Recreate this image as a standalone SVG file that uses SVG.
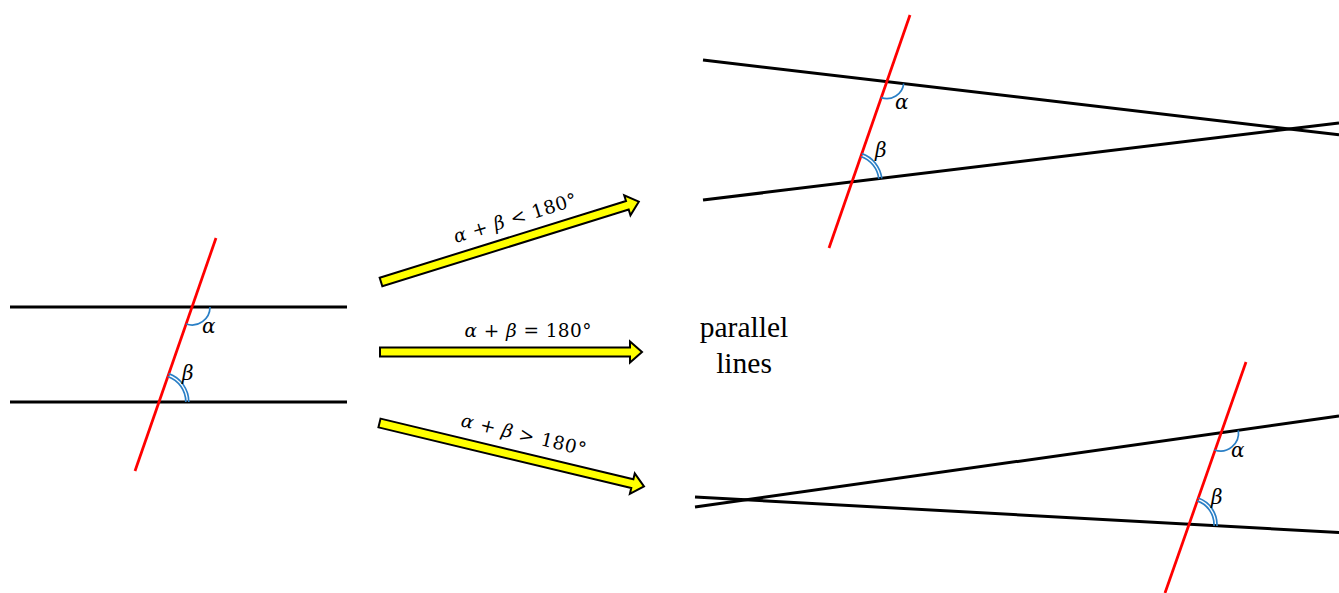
<svg xmlns="http://www.w3.org/2000/svg" width="1339" height="593" viewBox="0 0 1339 593">
<style>
.blk{stroke:#000;stroke-width:3;fill:none}
.red{stroke:#FF0000;stroke-width:2.75;fill:none}
.arc{stroke:#2A7FC6;stroke-width:1.7;fill:none}
.ang{font-family:"DejaVu Serif","Liberation Serif",serif;font-style:italic;font-size:20px;fill:#000}
.arr{fill:#FFFF00;stroke:#000;stroke-width:2;stroke-linejoin:miter}
.lbl{font-family:"DejaVu Serif","Liberation Serif",serif;font-size:18.5px;fill:#000}
.it{font-style:italic}
.pl{font-family:"Liberation Serif","Times New Roman",serif;font-size:29.5px;fill:#000}
</style>
<rect width="1339" height="593" fill="#fff"/>
<g id="fig-left">
<line class="blk" x1="10" y1="307" x2="347" y2="307"/>
<line class="blk" x1="10" y1="402" x2="347" y2="402"/>
<line class="red" x1="216" y1="238" x2="135" y2="471"/>
<path class="arc" d="M210,307 A18,18 0 0 1 186.08,324"/>
<path class="arc" d="M185.8,402 A27,27 0 0 0 167.68,376.5"/>
<path class="arc" d="M188.8,402 A30,30 0 0 0 168.67,373.67"/>
<text class="ang" x="202" y="333">α</text>
<text class="ang" x="182" y="380">β</text>
</g>
<g id="fig-top-right">
<line class="blk" x1="703" y1="60" x2="1339" y2="134.8"/>
<line class="blk" x1="703" y1="200" x2="1339" y2="123"/>
<line class="red" x1="910" y1="15" x2="829" y2="248"/>
<path class="arc" d="M903.68,83.58 A17,17 0 0 1 881.21,97.65"/>
<path class="arc" d="M878.8,178.76 A27,27 0 0 0 860.88,156.5"/>
<path class="arc" d="M881.78,178.4 A30,30 0 0 0 861.87,153.67"/>
<text class="ang" x="895" y="109">α</text>
<text class="ang" x="875" y="157">β</text>
</g>
<g id="fig-bottom-right">
<line class="blk" x1="695" y1="507" x2="1339" y2="416"/>
<line class="blk" x1="695" y1="497" x2="1339" y2="532.5"/>
<line class="red" x1="1246" y1="362" x2="1165" y2="593"/>
<path class="arc" d="M1238.33,430.49 A18,18 0 0 1 1214.55,450"/>
<path class="arc" d="M1213.96,525.9 A25,25 0 0 0 1197.26,500.9"/>
<path class="arc" d="M1216.96,526.06 A28,28 0 0 0 1198.25,498.07"/>
<text class="ang" x="1231" y="457">α</text>
<text class="ang" x="1211" y="504">β</text>
</g>
<g id="label-parallel">
<text class="pl" x="744" y="337" text-anchor="middle">parallel</text>
<text class="pl" x="744" y="373" text-anchor="middle">lines</text>
</g>
<g id="connectors">
<g id="arrow-less" transform="translate(381,282) rotate(-17.3)">
<path class="arr" d="M0,-4.5 L258,-4.5 L258,-10.5 L270,0 L258,10.5 L258,4.5 L0,4.5 Z"/>
<text class="lbl" x="147" y="-15" text-anchor="middle" textLength="128" lengthAdjust="spacing"><tspan class="it">α</tspan> + <tspan class="it">β</tspan> &lt; 180°</text>
</g>
<g id="arrow-equal" transform="translate(380,352)">
<path class="arr" d="M0,-4.5 L250,-4.5 L250,-10.5 L262,0 L250,10.5 L250,4.5 L0,4.5 Z"/>
<text class="lbl" x="148" y="-15" text-anchor="middle" textLength="127" lengthAdjust="spacing"><tspan class="it">α</tspan> + <tspan class="it">β</tspan> = 180°</text>
</g>
<g id="arrow-greater" transform="translate(379.5,423) rotate(13.5)">
<path class="arr" d="M0,-4.5 L260,-4.5 L260,-10.5 L272,0 L260,10.5 L260,4.5 L0,4.5 Z"/>
<text class="lbl" x="143" y="-16" text-anchor="middle" textLength="128" lengthAdjust="spacing"><tspan class="it">α</tspan> + <tspan class="it">β</tspan> &gt; 180°</text>
</g>
</g>
</svg>
